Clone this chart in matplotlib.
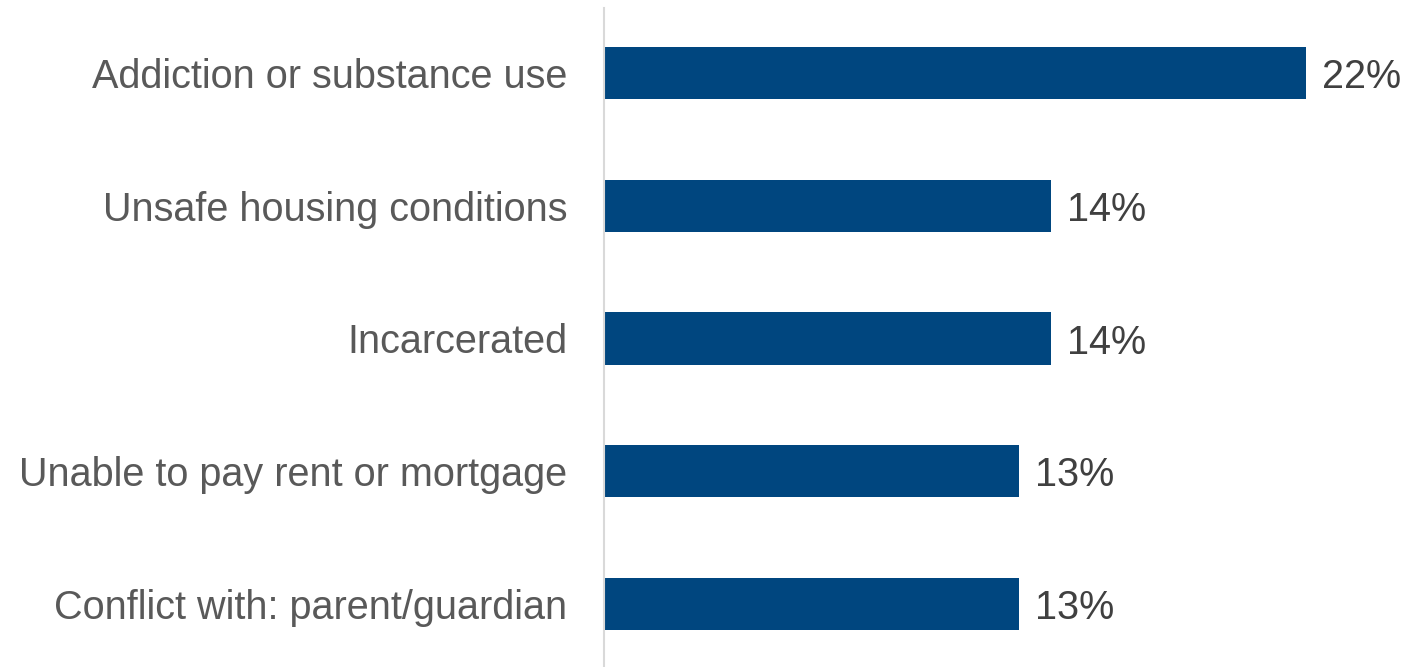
import matplotlib.pyplot as plt

categories = ["Addiction or substance use", "Unsafe housing conditions", "Incarcerated",
              "Unable to pay rent or mortgage", "Conflict with: parent/guardian"]
values = [22, 14, 14, 13, 13]
value_labels = ["22%", "14%", "14%", "13%", "13%"]

plt.rcParams['font.family'] = ['Liberation Sans', 'DejaVu Sans']

fig = plt.figure(figsize=(14.08, 6.67), dpi=100)
ax = fig.add_axes([604/1408, 0, 1 - 604/1408, 1])

ypos = list(range(len(categories)))[::-1]
ax.barh(ypos, values, height=0.395, color='#00467F')

for y, v, lab in zip(ypos, values, value_labels):
    ax.annotate(lab, (v, y), xytext=(11.5, -3), textcoords='offset points',
                va='center', ha='left', fontsize=28.5, color='#404040')

ax.set_yticks(ypos)
ax.set_yticklabels(categories, fontsize=28.5, color='#595959')
ax.tick_params(axis='y', length=0, pad=26.5)
ax.set_xticks([])
ax.set_xlim(0, 804/31.9)
ax.set_ylim(-0.475, 4.55)

for s in ['top', 'right', 'bottom']:
    ax.spines[s].set_visible(False)
ax.spines['left'].set_color('#D9D9D9')
ax.spines['left'].set_linewidth(1.5)
ax.spines['left'].set_bounds(-0.475, 4.55 - 8/132.75)

fig.savefig('out.png', dpi=100)
